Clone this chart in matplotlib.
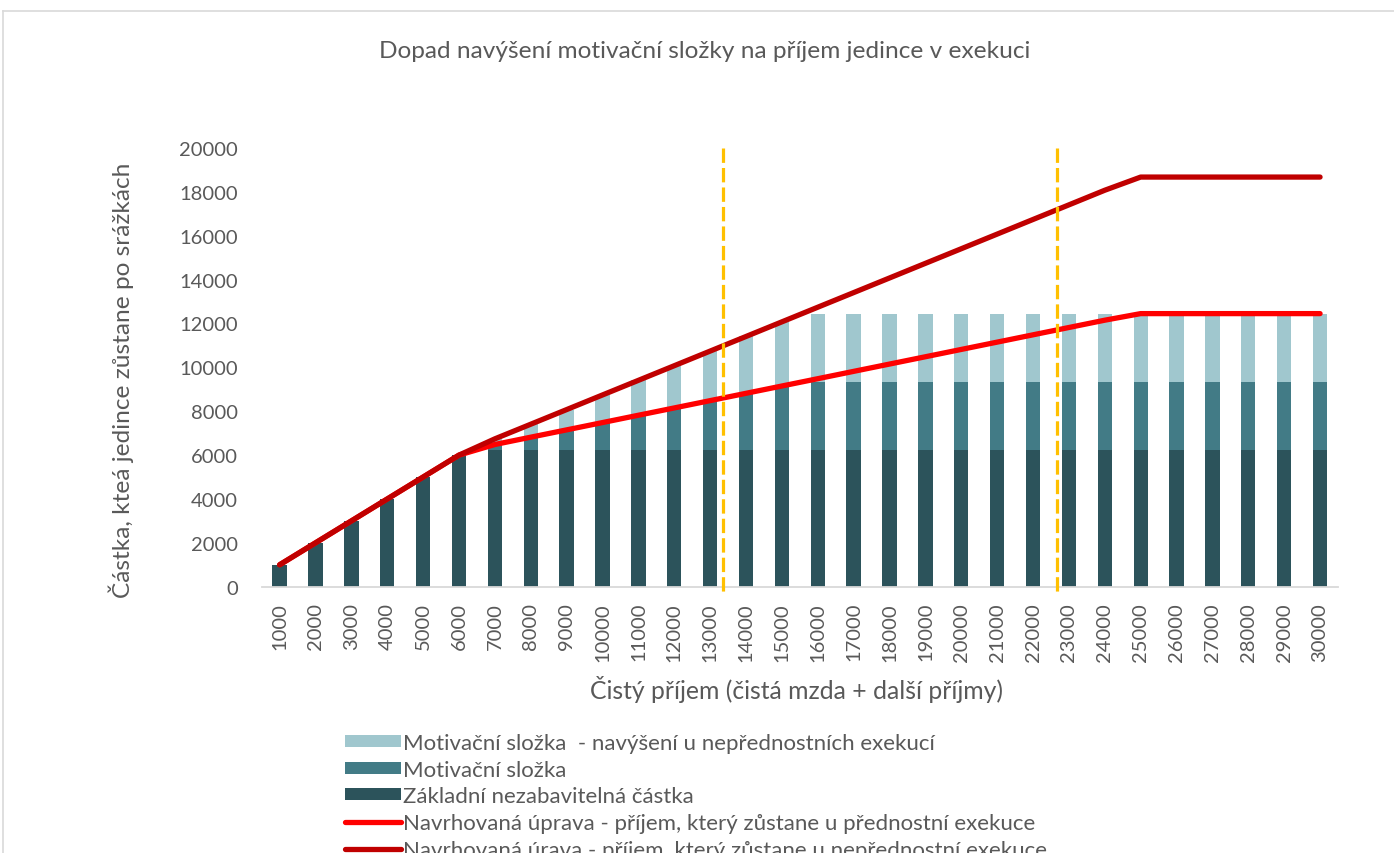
import matplotlib
matplotlib.use("Agg")
import matplotlib.pyplot as plt
import numpy as np
from matplotlib.lines import Line2D
from matplotlib.patches import Patch

plt.rcParams['font.family'] = ['Lato', 'DejaVu Sans']

incomes = [1000, 2000, 3000, 4000, 5000, 6000, 7000, 8000, 9000, 10000,
           11000, 12000, 13000, 14000, 15000, 16000, 17000, 18000, 19000, 20000,
           21000, 22000, 23000, 24000, 25000, 26000, 27000, 28000, 29000, 30000]
labels = [str(v) for v in incomes]

zakladni = [1000, 2000, 3000, 4000, 5000, 6000] + [6225] * 24
motivacni = [0, 0, 0, 0, 0, 0, 258, 592, 925, 1258, 1592, 1925, 2258, 2592, 2925] + [3112] * 15
navyseni = [0, 0, 0, 0, 0, 0, 258, 592, 925, 1258, 1592, 1925, 2258, 2592, 2925] + [3112] * 15
prednostni = [1000, 2000, 3000, 4000, 5000, 6000, 6483, 6817, 7150, 7483,
              7817, 8150, 8483, 8817, 9150, 9483, 9817, 10150, 10483, 10817,
              11150, 11483, 11817, 12150, 12450, 12450, 12450, 12450, 12450, 12450]
neprednostni = [1000, 2000, 3000, 4000, 5000, 6000, 6742, 7408, 8075, 8742,
                9408, 10075, 10742, 11408, 12075, 12742, 13408, 14075, 14742, 15408,
                16075, 16742, 17408, 18075, 18675, 18675, 18675, 18675, 18675, 18675]
hranice = [13350, 22680]  # incomes marked by the dashed lines

c_light = '#A0C7CE'
c_mid = '#427B86'
c_dark = '#2C535B'
c_red = '#FF0000'
c_dred = '#C00000'
c_gold = '#FFC000'
c_text = '#595959'

W, H = 1394, 854
fig = plt.figure(figsize=(W / 100, H / 100), dpi=100)
ax = fig.add_axes([261.7 / W, 1 - 587.7 / H, (1338 - 261.7) / W, (587.7 - 149) / H])

x = np.arange(len(incomes))
bw = 0.4
ax.bar(x, zakladni, width=bw, color=c_dark, zorder=2)
ax.bar(x, motivacni, width=bw, bottom=zakladni, color=c_mid, zorder=2)
bottom3 = np.array(zakladni) + np.array(motivacni)
ax.bar(x, navyseni, width=bw, bottom=bottom3, color=c_light, zorder=2)

ax.plot(x, prednostni, color=c_red, lw=3.8, solid_capstyle='round', solid_joinstyle='round', zorder=4)
ax.plot(x, neprednostni, color=c_dred, lw=3.8, solid_capstyle='round', solid_joinstyle='round', zorder=5)

step = incomes[1] - incomes[0]
for h in hranice:
    pos = (h - incomes[0]) / step
    ax.plot([pos, pos], [20000, -250], color=c_gold, lw=2.3, dashes=(4.5, 1.6),
            clip_on=False, zorder=6)

ax.set_xlim(-0.5, len(incomes) - 0.5)
ax.set_ylim(0, 20000)
ax.set_yticks(np.arange(0, 20001, 2000))
ax.set_xticks(x)
ax.set_xticklabels(labels, rotation=90, va='top', ha='center')
ax.tick_params(axis='both', length=0, labelsize=14.5, colors=c_text)
ax.tick_params(axis='x', pad=11)
ax.tick_params(axis='y', pad=17)
for s in ['top', 'right', 'left']:
    ax.spines[s].set_visible(False)
ax.spines['bottom'].set_color('#D9D9D9')
ax.spines['bottom'].set_linewidth(1.3)

fig.text(705 / W, 1 - 51 / H, 'Dopad navýšení motivační složky na příjem jedince v exekuci',
         ha='center', va='center', fontsize=17.6, color=c_text)
fig.text(121 / W, 1 - 380 / H, 'Částka, kteá jedince zůstane po srážkách', rotation=90,
         ha='center', va='center', fontsize=17.6, color=c_text)
fig.text(797 / W, 1 - 690 / H, 'Čistý příjem (čistá mzda + další příjmy)',
         ha='center', va='center', fontsize=17.8, color=c_text)

handles = [Patch(facecolor=c_light), Patch(facecolor=c_mid), Patch(facecolor=c_dark),
           Line2D([], [], color=c_red, lw=3.8, solid_capstyle='round'),
           Line2D([], [], color=c_dred, lw=3.8, solid_capstyle='round')]
names = ['Motivační složka  - navýšení u nepřednostních exekucí', 'Motivační složka',
         'Základní nezabavitelná částka',
         'Navrhovaná úprava - příjem, který zůstane u přednostní exekuce',
         'Navrhovaná úrava - příjem, který zůstane u nepřednostní exekuce']
leg = fig.legend(handles, names, loc='upper left', bbox_to_anchor=(345 / W, 1 - 734 / H),
                 frameon=False, fontsize=16, labelspacing=0.3, handlelength=2.5,
                 handleheight=0.45, handletextpad=0.12, borderpad=0, borderaxespad=0)
for t in leg.get_texts():
    t.set_color(c_text)

# chart-area border (top and left visible)
fig.add_artist(Line2D([3 / W, 3 / W], [0, 1 - 12 / H], color='#D9D9D9', lw=1.2))
fig.add_artist(Line2D([3 / W, 1], [1 - 12 / H, 1 - 12 / H], color='#D9D9D9', lw=1.2))

fig.savefig('out.png', dpi=100)
